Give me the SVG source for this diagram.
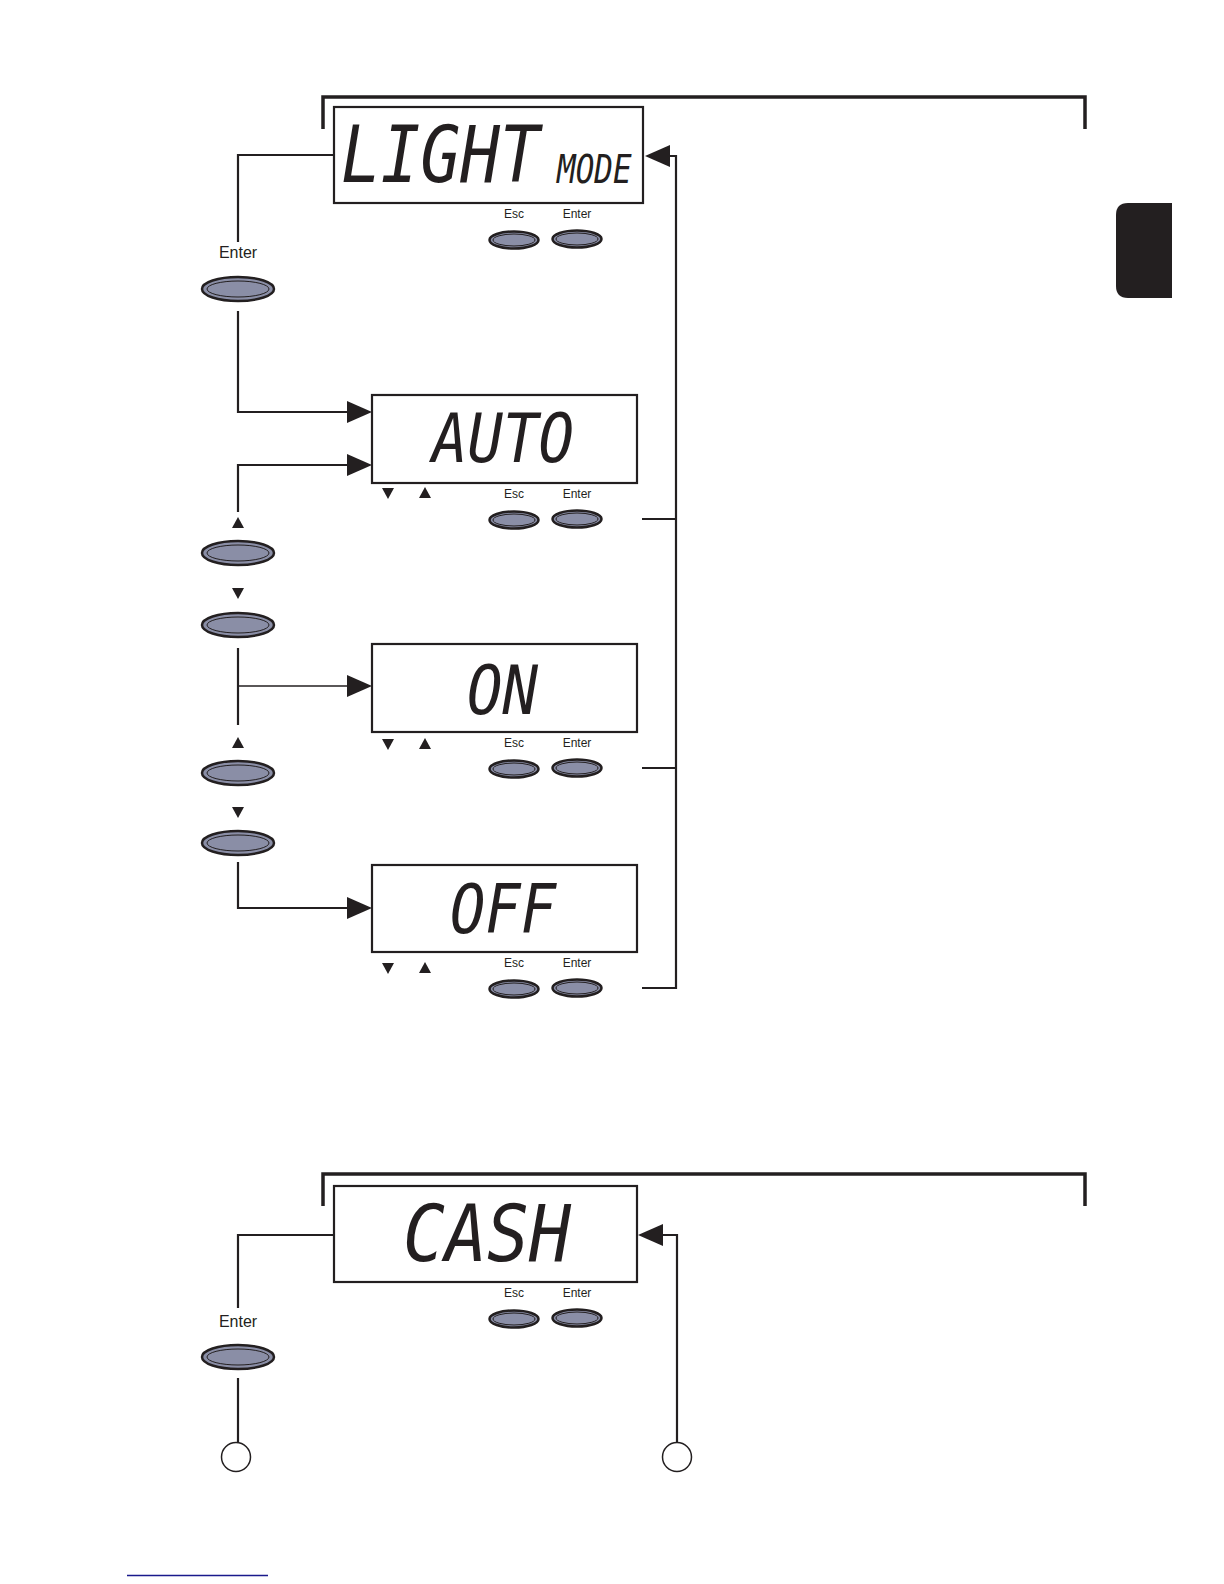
<svg xmlns="http://www.w3.org/2000/svg" width="1224" height="1584" viewBox="0 0 1224 1584">
<defs>
<style>
.lcd{fill:#fff;stroke:#231f20;stroke-width:2.2}
.seg{font-family:"DejaVu Sans Mono",monospace;font-style:italic;fill:#231f20}
.lbl{font-family:"Liberation Sans",Arial,sans-serif;fill:#231f20}
.btn{fill:#8a8ea6;stroke:#231f20;stroke-width:2.5}
.btn-in{fill:none;stroke:#231f20;stroke-width:1}
.ln{fill:none;stroke:#231f20;stroke-width:2.2}
.thin{fill:none;stroke:#231f20;stroke-width:1.3}
.brk{fill:none;stroke:#231f20;stroke-width:3.5}
.tri{fill:#231f20}
</style>
<marker id="ah" markerUnits="userSpaceOnUse" markerWidth="25" markerHeight="22" refX="13" refY="11" orient="auto">
<path d="M0,0 L25,11 L0,22 z" fill="#231f20"/>
</marker>
<g id="bigbtn">
<ellipse cx="0" cy="0" rx="36" ry="12" class="btn"/>
<ellipse cx="0" cy="0" rx="31" ry="8" class="btn-in"/>
</g>
<g id="smallbtn">
<ellipse cx="0" cy="0" rx="24.5" ry="8.5" class="btn"/>
<ellipse cx="0" cy="0" rx="21" ry="6" class="btn-in"/>
</g>
<g id="keys">
<text x="514" y="0" class="lbl" font-size="12" text-anchor="middle">Esc</text>
<text x="577" y="0" class="lbl" font-size="12" text-anchor="middle">Enter</text>
<use href="#smallbtn" x="514" y="22"/>
<use href="#smallbtn" x="577" y="21"/>
</g>
<g id="arrows">
<polygon points="382,-5 394,-5 388,6" class="tri"/>
<polygon points="425,-6 431,5 419,5" class="tri"/>
</g>
</defs>
<rect width="1224" height="1584" fill="#fff"/>

<!-- tab -->
<path d="M1128,203 H1172 V298 H1128 Q1116,298 1116,286 V215 Q1116,203 1128,203 Z" fill="#231f20"/>

<!-- brackets -->
<polyline points="323,129 323,97 1085,97 1085,129" class="brk"/>
<polyline points="323,1206 323,1174 1085,1174 1085,1206" class="brk"/>

<g id="connectors">
<polyline points="334,155 238,155 238,242" class="ln"/>
<polyline points="238,311 238,412 360,412" class="ln" marker-end="url(#ah)"/>
<polyline points="238,512 238,465 360,465" class="ln" marker-end="url(#ah)"/>
<polyline points="238,648 238,725" class="ln"/>
<polyline points="238,686 360,686" class="thin" marker-end="url(#ah)"/>
<polyline points="238,862 238,908 360,908" class="ln" marker-end="url(#ah)"/>
<polyline points="642,519 676,519" class="ln"/>
<polyline points="642,768 676,768" class="ln"/>
<polyline points="642,988 676,988 676,156 657,156" class="ln" marker-end="url(#ah)"/>
<polyline points="334,1235 238,1235 238,1308" class="ln"/>
<polyline points="238,1378 238,1443" class="ln"/>
<polyline points="677,1443 677,1235 650,1235" class="ln" marker-end="url(#ah)"/>
</g>

<g id="node-lightmode">
<rect x="334" y="107" width="309" height="96" class="lcd"/>
<text transform="translate(341,182) scale(1,1.18)" class="seg" font-size="66">LIGHT</text>
<text transform="translate(557,183) scale(1,1.24)" class="seg" font-size="31">MODE</text>
<use href="#keys" y="218"/>
</g>

<g id="btn-enter-1">
<text x="238" y="258" class="lbl" font-size="16" text-anchor="middle">Enter</text>
<use href="#bigbtn" x="238" y="289"/>
</g>

<g id="node-auto">
<rect x="372" y="395" width="265" height="88" class="lcd"/>
<text x="432" y="462" class="seg" font-size="68" textLength="142" lengthAdjust="spacingAndGlyphs">AUTO</text>
<use href="#arrows" y="493"/>
<use href="#keys" y="498"/>
</g>

<g id="btn-up-1">
<polygon points="238,517 244,528 232,528" class="tri"/>
<use href="#bigbtn" x="238" y="553"/>
</g>
<g id="btn-down-1">
<polygon points="232,588 244,588 238,599" class="tri"/>
<use href="#bigbtn" x="238" y="625"/>
</g>

<g id="node-on">
<rect x="372" y="644" width="265" height="88" class="lcd"/>
<text x="467" y="714" class="seg" font-size="68" textLength="71" lengthAdjust="spacingAndGlyphs">ON</text>
<use href="#arrows" y="744"/>
<use href="#keys" y="747"/>
</g>

<g id="btn-up-2">
<polygon points="238,737 244,748 232,748" class="tri"/>
<use href="#bigbtn" x="238" y="773"/>
</g>
<g id="btn-down-2">
<polygon points="232,807 244,807 238,818" class="tri"/>
<use href="#bigbtn" x="238" y="843"/>
</g>

<g id="node-off">
<rect x="372" y="865" width="265" height="87" class="lcd"/>
<text x="450" y="933" class="seg" font-size="68" textLength="106" lengthAdjust="spacingAndGlyphs">OFF</text>
<use href="#arrows" y="968"/>
<use href="#keys" y="967"/>
</g>

<g id="node-cash">
<rect x="334" y="1186" width="303" height="96" class="lcd"/>
<text x="403" y="1261" class="seg" font-size="78" textLength="168" lengthAdjust="spacingAndGlyphs">CASH</text>
<use href="#keys" y="1297"/>
</g>

<g id="btn-enter-2">
<text x="238" y="1327" class="lbl" font-size="16" text-anchor="middle">Enter</text>
<use href="#bigbtn" x="238" y="1357"/>
</g>

<g id="circle-a">
<circle cx="236" cy="1457" r="14.5" fill="#fff" stroke="#231f20" stroke-width="1.5"/>
</g>
<g id="circle-b">
<circle cx="677" cy="1457" r="14.5" fill="#fff" stroke="#231f20" stroke-width="1.5"/>
</g>

<line x1="127" y1="1575.5" x2="268" y2="1575.5" stroke="#1a1a8c" stroke-width="1.5"/>
</svg>
